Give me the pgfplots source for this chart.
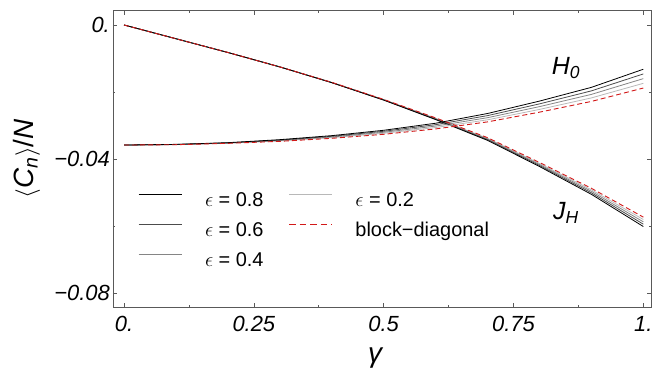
\documentclass[border=0pt]{standalone}
\usepackage{fontspec}
\setmainfont{Liberation Sans}
\usepackage{pgfplots}
\pgfplotsset{compat=1.18}
\usepackage{pgfplotstable}
\definecolor{bdred}{RGB}{210,25,25}
\definecolor{eA}{gray}{0.0}
\definecolor{eB}{gray}{0.3}
\definecolor{eC}{gray}{0.52}
\definecolor{eD}{gray}{0.72}
\definecolor{framec}{gray}{0.35}

% columns: gamma, eps=0.8, eps=0.6, eps=0.4, eps=0.2, block-diagonal
\pgfplotstableread{
g    e8       e6       e4       e2       bd
0.0  0.0      0.0      0.0      0.0      0.0
0.1  -0.0041  -0.0041  -0.0041  -0.0041  -0.0041
0.2  -0.0082  -0.0082  -0.0082  -0.0082  -0.0082
0.3  -0.0125  -0.0125  -0.0125  -0.0125  -0.0125
0.4  -0.0172  -0.01718 -0.01715 -0.01713 -0.0171
0.5  -0.0224  -0.02235 -0.0223  -0.02225 -0.0222
0.6  -0.0282  -0.02808 -0.02795 -0.02783 -0.0277
0.7  -0.0344  -0.0342  -0.0340  -0.0338  -0.0336
0.8  -0.0422  -0.0419  -0.0416  -0.0413  -0.0410
0.9  -0.0505  -0.05005 -0.0496  -0.04915 -0.0487
1.0  -0.0601  -0.0594  -0.0587  -0.0580  -0.0573
}\JH

\pgfplotstableread{
g    e8       e6       e4       e2       bd
0.0  -0.0358  -0.0358  -0.0358  -0.0358  -0.0358
0.1  -0.0356  -0.03563 -0.03565 -0.03568 -0.0357
0.2  -0.0351  -0.03515 -0.0352  -0.03525 -0.0353
0.3  -0.0342  -0.03433 -0.03445 -0.03458 -0.0347
0.4  -0.0330  -0.0332  -0.0334  -0.0336  -0.0338
0.5  -0.0314  -0.0317  -0.0320  -0.0323  -0.0326
0.6  -0.0293  -0.02973 -0.03015 -0.03058 -0.0310
0.7  -0.0264  -0.02703 -0.02765 -0.02828 -0.0289
0.8  -0.0227  -0.02353 -0.02435 -0.02518 -0.0260
0.9  -0.0186  -0.01965 -0.0207  -0.02175 -0.0228
1.0  -0.0132  -0.0146  -0.0160  -0.0174  -0.0188
}\HO

\begin{document}
\begin{tikzpicture}
\begin{axis}[
  scale only axis,
  width=538bp, height=296.3bp,
  xmin=-0.0212, xmax=1.0148,
  ymin=-0.0841, ymax=0.00426,
  axis line style={framec, line width=0.8bp},
  tick style={framec, line width=0.6bp},
  major tick length=4.5bp, minor tick length=2.5bp,
  xtick={0,0.25,0.5,0.75,1},
  xticklabels={0.,0.25,0.5,0.75,1.},
  minor xtick={0.125,0.375,0.625,0.875},
  ytick={-0.08,-0.04,0},
  yticklabels={−0.08,−0.04,0.},
  minor ytick={-0.06,-0.02},
  scaled y ticks=false,
  ticklabel style={font=\fontsize{22}{26}\selectfont\itshape},
  xticklabel style={inner sep=0pt, anchor=north, yshift=-9bp},
  yticklabel style={inner sep=0pt, anchor=east, xshift=-3bp},
  xlabel={\itshape γ},
  ylabel={$\langle$\textit{C}\textsubscript{\textit{n}}$\rangle$/\textit{N}},
  label style={font=\fontsize{28}{30}\selectfont},
  xlabel style={at={(axis description cs:0.487,-0.172)}, anchor=center},
  ylabel style={at={(axis description cs:-0.160,0.5)}, anchor=center},
  legend columns=2,
  legend cell align=left,
  legend image code/.code={\draw[#1] (0bp,7bp) -- (43bp,7bp);},
  legend style={
    at={(axis description cs:0.0465,0.398)}, anchor=north west,
    draw=none, fill=none, inner sep=0pt,
    font=\fontsize{20}{24}\selectfont,
    row sep=6bp,
    nodes={inner sep=2bp, text height=15bp, text depth=5bp},
    /tikz/every odd column/.append style={column sep=21bp},
    /tikz/every even column/.append style={column sep=23bp},
  },
  clip=false,
]
% J_H curves
\addplot[eD, line width=0.8bp, forget plot] table[x=g, y=e2] {\JH};
\addplot[eC, line width=0.8bp, forget plot] table[x=g, y=e4] {\JH};
\addplot[eB, line width=0.8bp, forget plot] table[x=g, y=e6] {\JH};
\addplot[eA, line width=0.8bp, forget plot] table[x=g, y=e8] {\JH};
% H_0 curves
\addplot[eD, line width=0.8bp, forget plot] table[x=g, y=e2] {\HO};
\addplot[eC, line width=0.8bp, forget plot] table[x=g, y=e4] {\HO};
\addplot[eB, line width=0.8bp, forget plot] table[x=g, y=e6] {\HO};
\addplot[eA, line width=0.8bp, forget plot] table[x=g, y=e8] {\HO};
% block-diagonal
\addplot[bdred, line width=0.9bp, dash pattern=on 5bp off 3bp, forget plot] table[x=g, y=bd] {\JH};
\addplot[bdred, line width=0.9bp, dash pattern=on 5bp off 3bp, forget plot] table[x=g, y=bd] {\HO};

\addlegendimage{draw=eA, line width=0.8bp}
\addlegendentry{$\epsilon$ = 0.8}
\addlegendimage{draw=eD, line width=0.8bp}
\addlegendentry{$\epsilon$ = 0.2}
\addlegendimage{draw=eB, line width=0.8bp}
\addlegendentry{$\epsilon$ = 0.6}
\addlegendimage{draw=bdred, line width=0.9bp, dash pattern=on 6.5bp off 4bp}
\addlegendentry{block−diagonal}
\addlegendimage{draw=eC, line width=0.8bp}
\addlegendentry{$\epsilon$ = 0.4}

\node[font=\fontsize{25}{28}\selectfont\itshape] at (axis cs:0.851,-0.0128) {H\textsubscript{0}};
\node[font=\fontsize{25}{28}\selectfont\itshape] at (axis cs:0.851,-0.0560) {J\textsubscript{H}};
\end{axis}
\pgfresetboundingbox
\path ([shift={(-113bp,-62bp)}]current axis.south west) rectangle ([shift={(1bp,10.7bp)}]current axis.north east);
\end{tikzpicture}
\end{document}
